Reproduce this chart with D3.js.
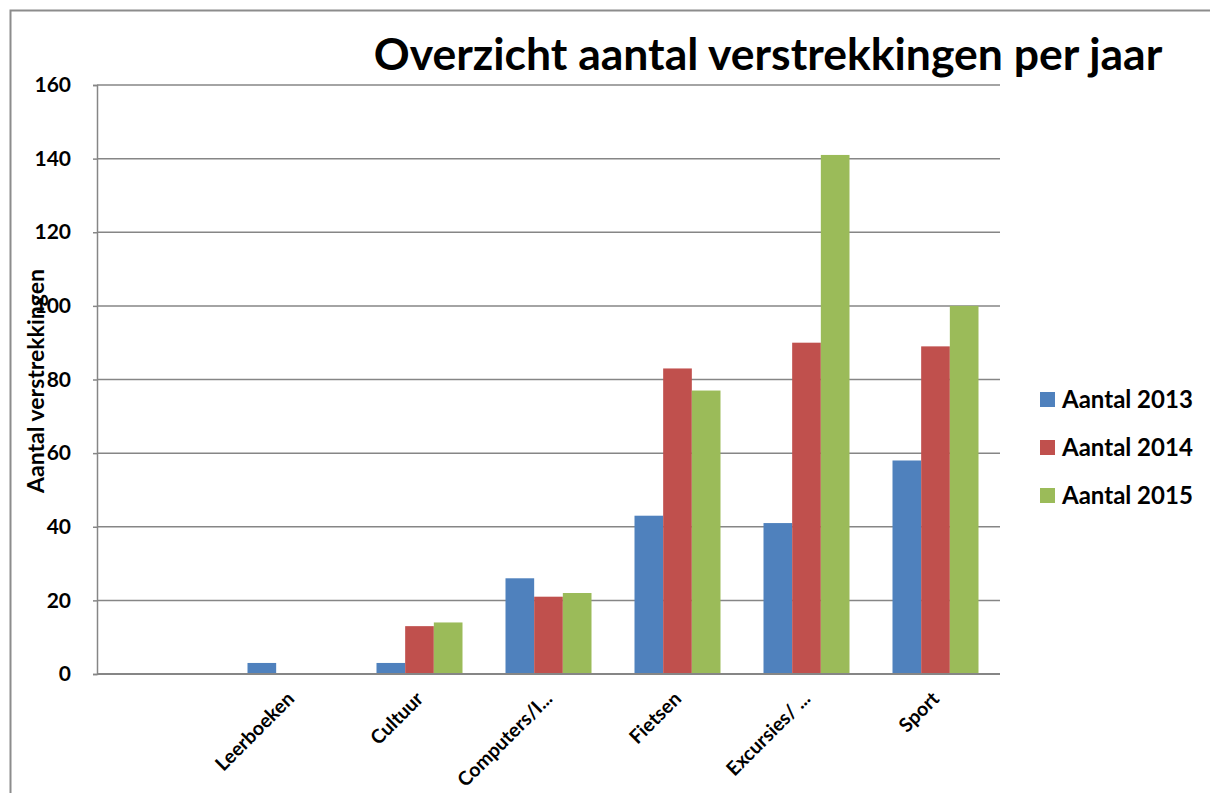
<!DOCTYPE html>
<html>
<head>
<meta charset="utf-8">
<script src="https://cdn.jsdelivr.net/npm/d3@7"></script>
<style>
  body { margin: 0; background: #fff; }
  text { font-family: Lato, "Open Sans", sans-serif; font-weight: bold; fill: #000; }
</style>
</head>
<body>
<div id="chart"></div>
<script>
// chart data
var categories = ["", "Leerboeken", "Cultuur", "Computers/I...", "Fietsen", "Excursies/ ...", "Sport"];
var seriesNames = ["Aantal 2013", "Aantal 2014", "Aantal 2015"];
var aantal2013 = [null, 3, 3, 26, 43, 41, 58];
var aantal2014 = [null, null, 13, 21, 83, 90, 89];
var aantal2015 = [null, null, 14, 22, 77, 141, 100];
var yTicks = [0, 20, 40, 60, 80, 100, 120, 140, 160];
var colors = ["#4F81BD", "#C0504D", "#9BBB59"];

var svgWidth = 1210;
var svgHeight = 793;

var margin = { top: 85, right: 210, bottom: 119, left: 97 };
var chartWidth = svgWidth - margin.left - margin.right;
var chartHeight = svgHeight - margin.top - margin.bottom;

var svg = d3.select("#chart")
  .append("svg")
  .attr("width", svgWidth)
  .attr("height", svgHeight);

// outer frame (cut off on right and bottom)
svg.append("rect")
  .attr("x", 10.5)
  .attr("y", 10.5)
  .attr("width", 1300)
  .attr("height", 900)
  .attr("fill", "none")
  .attr("stroke", "#8c8c8c")
  .attr("stroke-width", 2);

var chartGroup = svg.append("g")
  .attr("transform", `translate(${margin.left}, ${margin.top})`);

var rows = categories.map(function(c, i) {
  return { cat: c, values: [aantal2013[i], aantal2014[i], aantal2015[i]] };
});

var x0 = d3.scaleBand()
  .domain(categories.map((c, i) => i))
  .range([0, chartWidth])
  .padding(0);

var bw = x0.bandwidth();
var x1 = d3.scaleBand()
  .domain(seriesNames)
  .range([bw / 6, bw * 5 / 6])
  .padding(0);

var yLinearScale = d3.scaleLinear()
  .domain([0, 160])
  .range([chartHeight, 0]);

// gridlines
chartGroup.append("g")
  .selectAll("line")
  .data(yTicks.filter(t => t > 0))
  .enter()
  .append("line")
  .attr("x1", 0)
  .attr("x2", chartWidth)
  .attr("y1", d => yLinearScale(d))
  .attr("y2", d => yLinearScale(d))
  .attr("stroke", "#868686")
  .attr("stroke-width", 1.5);

// bars
var groups = chartGroup.selectAll(".grp")
  .data(rows)
  .enter()
  .append("g")
  .attr("class", "grp")
  .attr("transform", (d, i) => `translate(${x0(i)},0)`);

groups.selectAll("rect")
  .data(d => d.values.map((v, j) => ({ name: seriesNames[j], value: v, j: j })).filter(e => e.value != null))
  .enter()
  .append("rect")
  .attr("x", d => x1(d.name))
  .attr("width", x1.bandwidth())
  .attr("y", d => yLinearScale(d.value))
  .attr("height", d => chartHeight - yLinearScale(d.value))
  .attr("fill", d => colors[d.j]);

// left axis
var leftAxis = d3.axisLeft(yLinearScale)
  .tickValues(yTicks)
  .tickSize(4)
  .tickPadding(22);

var yAxisG = chartGroup.append("g").call(leftAxis);
yAxisG.select(".domain").attr("stroke", "#868686").attr("stroke-width", 1.5);
yAxisG.selectAll(".tick line").attr("stroke", "#868686").attr("stroke-width", 1.5);
yAxisG.selectAll(".tick text")
  .attr("font-size", "21px")
  .attr("font-family", "Lato, sans-serif")
  .attr("font-weight", "bold")
  .attr("fill", "#000");

// bottom axis
chartGroup.append("line")
  .attr("x1", 0)
  .attr("x2", chartWidth)
  .attr("y1", chartHeight)
  .attr("y2", chartHeight)
  .attr("stroke", "#868686")
  .attr("stroke-width", 2);

// category labels
chartGroup.selectAll(".catlabel")
  .data(categories)
  .enter()
  .append("text")
  .attr("class", "catlabel")
  .attr("transform", (d, i) => `translate(${x0(i) + bw / 2 + 5},${chartHeight + 26}) rotate(-45)`)
  .style("text-anchor", "end")
  .attr("font-size", "19.5px")
  .text(d => d);

// y axis title
svg.append("text")
  .attr("transform", "rotate(-90)")
  .attr("x", -381)
  .attr("y", 44)
  .style("text-anchor", "middle")
  .attr("font-size", "23px")
  .text("Aantal verstrekkingen");

// title
svg.append("text")
  .attr("x", 768)
  .attr("y", 70)
  .style("text-anchor", "middle")
  .attr("font-size", "44.5px")
  .text("Overzicht aantal verstrekkingen per jaar");

// legend
var legend = svg.append("g")
  .attr("transform", "translate(1040, 392)");

var legendItems = legend.selectAll("g")
  .data(seriesNames)
  .enter()
  .append("g")
  .attr("transform", (d, i) => `translate(0, ${i * 48})`);

legendItems.append("rect")
  .attr("width", 15)
  .attr("height", 15)
  .attr("fill", (d, i) => colors[i]);

legendItems.append("text")
  .attr("x", 22)
  .attr("y", 16)
  .attr("font-size", "24px")
  .text(d => d);
</script>
</body>
</html>
